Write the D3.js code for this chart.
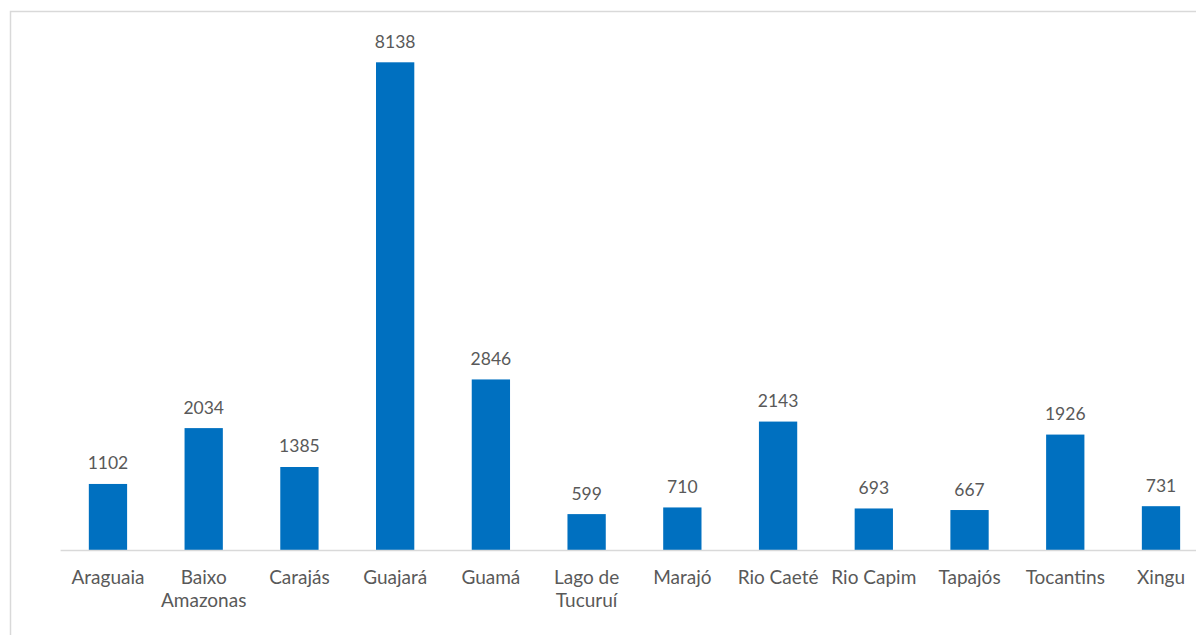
<!DOCTYPE html>
<html><head><meta charset="utf-8">
<script src="https://cdn.jsdelivr.net/npm/d3@7"></script>
<style>
html,body{margin:0;padding:0;background:#fff;}
svg{display:block;}
text{font-family:Lato,"Noto Sans",sans-serif;fill:#595959;}
</style></head>
<body>
<svg id="chart" width="1196" height="635"></svg>
<script>
const categories = ["Araguaia","Baixo Amazonas","Carajás","Guajará","Guamá","Lago de Tucuruí","Marajó","Rio Caeté","Rio Capim","Tapajós","Tocantins","Xingu"];
const values = [1102,2034,1385,8138,2846,599,710,2143,693,667,1926,731];

const svg = d3.select("#chart");
const valueFont = 17.5, catFont = 19;

// outer chart border (extends past the picture on right and bottom)
svg.append("rect")
  .attr("x",10.5).attr("y",11.5).attr("width",1300).attr("height",800)
  .attr("fill","none").attr("stroke","#d9d9d9").attr("stroke-width",1.5);

const x0 = 60.1, step = 95.73;
const x = d3.scaleBand().domain(categories)
  .range([x0, x0 + step*categories.length])
  .paddingInner(0.6).paddingOuter(0.3);
const baseY = 550;
const y = d3.scaleLinear().domain([0, 8138]).range([baseY, 62.3]);

// bars
svg.append("g").selectAll("rect").data(values).join("rect")
  .attr("x",(d,i)=>x(categories[i]))
  .attr("width",x.bandwidth())
  .attr("y",d=>y(d))
  .attr("height",d=>baseY - y(d))
  .attr("fill","#0070C0");

// value labels
svg.append("g").selectAll("text").data(values).join("text")
  .attr("x",(d,i)=>x(categories[i]) + x.bandwidth()/2)
  .attr("y",d=>y(d) - 14.5)
  .attr("text-anchor","middle")
  .attr("font-size",valueFont)
  .text(d=>d);

// x axis
const axis = svg.append("g").attr("transform",`translate(0,${baseY})`)
  .call(d3.axisBottom(x).tickSize(0).tickPadding(0));
axis.select(".domain").attr("stroke","#d9d9d9").attr("stroke-width",1.5);
axis.selectAll(".tick text").remove();
axis.selectAll(".tick").each(function(d){
  const g = d3.select(this);
  const t = g.append("text").attr("text-anchor","middle").attr("font-size",catFont)
    .attr("fill","#595959").attr("font-family","Lato, 'Noto Sans', sans-serif");
  // wrap to the category width like the original
  const words = d.split(" ");
  let lines = [], cur = [];
  const tmp = t.append("tspan");
  for (const w of words) {
    const test = cur.concat([w]).join(" ");
    tmp.text(test);
    if (tmp.node().getComputedTextLength() > 92 && cur.length) {
      lines.push(cur.join(" ")); cur = [w];
    } else cur.push(w);
  }
  lines.push(cur.join(" "));
  tmp.remove();
  lines.forEach((ln,i)=>{
    t.append("tspan").attr("x",0).attr("y",34 + i*22.5).text(ln);
  });
});
</script>
</body></html>
